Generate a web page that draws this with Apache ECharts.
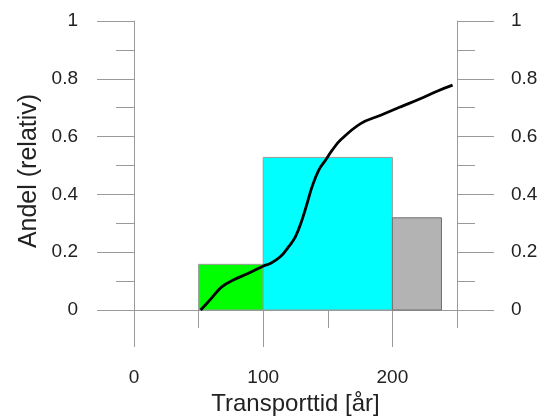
<!DOCTYPE html>
<html>
<head>
<meta charset="utf-8">
<script src="https://cdn.jsdelivr.net/npm/echarts@6/dist/echarts.min.js"></script>
<style>
html,body{margin:0;padding:0;background:#fff;}
#c{width:548px;height:417px;}
</style>
</head>
<body>
<div id="c"></div>
<script>
// Histogram bins
var binStart = [50, 100, 200];
var binEnd = [100, 200, 238];
var binValue = [0.158, 0.528, 0.319];
var binColor = ['#00ff00', '#00ffff', '#b3b3b3'];
var binBorder = ['#9a9a9a', '#9a9a9a', '#707070'];

// Cumulative curve
var curveX = [51.6, 58.8, 67.9, 76.9, 88.6, 100.2, 105.5, 113.2, 119.7, 124.9, 130, 134, 137.8, 143, 148.2, 153.4, 159.8, 175.4, 190.9, 206.4, 222, 235, 246.6];
var curveY = [0, 0.035, 0.08, 0.104, 0.127, 0.152, 0.161, 0.184, 0.219, 0.253, 0.311, 0.369, 0.426, 0.484, 0.518, 0.553, 0.588, 0.645, 0.674, 0.703, 0.732, 0.758, 0.778];

var xLabelValues = [0, 100, 200];
var xMajorTicks = [0, 100, 200];

var axisColor = '#9a9a9a';
var textColor = '#222';
var font = 'Liberation Sans, Arial, sans-serif';

var binData = binStart.map(function (s, i) { return [s, binEnd[i], binValue[i], i]; });
var curveData = curveX.map(function (x, i) { return [x, curveY[i]]; });

var chart = echarts.init(document.getElementById('c'), null, {renderer: 'canvas'});

var yAxisCommon = {
  type: 'value', min: 0, max: 1, interval: 0.2,
  axisLine: {show: true, onZero: false, lineStyle: {color: axisColor, width: 1}},
  axisTick: {show: true, inside: false, length: 37, lineStyle: {color: axisColor, width: 1}},
  minorTick: {show: true, splitNumber: 2, length: 18, lineStyle: {color: axisColor, width: 1}},
  splitLine: {show: false},
  axisLabel: {color: textColor, fontSize: 19, fontFamily: font, formatter: function (v) { return String(Math.round(v * 10) / 10); }}
};

chart.setOption({
  animation: false,
  grid: {left: 134, right: 91, top: 21, bottom: 107, containLabel: false, outerBoundsMode: 'none'},
  xAxis: [{
    type: 'value', min: 0, max: 250, interval: 50,
    position: 'bottom',
    axisLine: {show: true, onZero: false, lineStyle: {color: axisColor, width: 1}},
    axisTick: {show: true, length: 18, lineStyle: {color: axisColor, width: 1}},
    splitLine: {show: false},
    axisLabel: {show: true, customValues: xLabelValues, margin: 58, color: textColor, fontSize: 19, fontFamily: font},
    name: 'Transporttid [år]', nameLocation: 'middle', nameGap: 81,
    nameTextStyle: {color: textColor, fontSize: 24, fontFamily: font}
  }, {
    type: 'value', min: 0, max: 250, interval: 50,
    position: 'bottom',
    axisLine: {show: false, onZero: false},
    axisTick: {show: true, customValues: xMajorTicks, length: 37, lineStyle: {color: axisColor, width: 1}},
    splitLine: {show: false},
    axisLabel: {show: false}
  }],
  yAxis: [
    Object.assign({}, yAxisCommon, {position: 'left', axisLabel: Object.assign({}, yAxisCommon.axisLabel, {margin: 56})}),
    Object.assign({}, yAxisCommon, {position: 'right', axisLabel: Object.assign({}, yAxisCommon.axisLabel, {margin: 54})})
  ],
  graphic: [{
    type: 'text', x: 29, y: 171, rotation: Math.PI / 2,
    style: {text: 'Andel (relativ)', fill: textColor, font: '25px ' + font, textAlign: 'center', textVerticalAlign: 'middle'}
  }],
  series: [{
    type: 'custom',
    xAxisIndex: 0, yAxisIndex: 0,
    data: binData,
    renderItem: function (params, api) {
      var s = api.value(0), e = api.value(1), v = api.value(2), idx = api.value(3);
      var p0 = api.coord([s, v]);
      var p1 = api.coord([e, 0]);
      return {
        type: 'rect',
        shape: {x: p0[0], y: p0[1], width: p1[0] - p0[0], height: p1[1] - p0[1]},
        style: {fill: binColor[idx], stroke: binBorder[idx], lineWidth: 1}
      };
    },
    z: 1
  }, {
    type: 'line',
    xAxisIndex: 0, yAxisIndex: 0,
    data: curveData,
    smooth: 0.4,
    showSymbol: false,
    symbol: 'none',
    lineStyle: {color: '#000', width: 2.8},
    z: 3
  }]
});
</script>
</body>
</html>
